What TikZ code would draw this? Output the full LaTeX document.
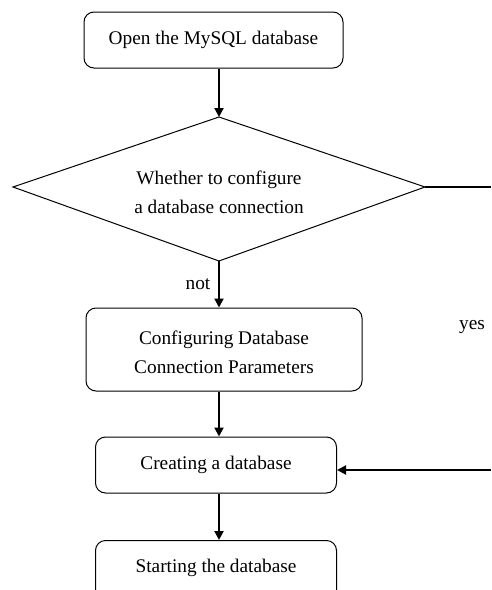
\documentclass[tikz,border=0pt]{standalone}
\usepackage{fontspec}
\setmainfont{Liberation Serif}
\usetikzlibrary{shapes.geometric,arrows.meta}
\begin{document}
\begin{tikzpicture}[x=1pt,y=-1pt,
  font=\fontsize{19.3}{28}\selectfont,
  stepbox/.style={draw, line width=1pt, rounded corners=10pt, align=center, inner sep=0pt},
  flow/.style={line width=2pt, -{Triangle[length=9pt,width=9pt]}},
  plain/.style={line width=2pt}]
  \useasboundingbox (0,0) rectangle (491,590);
  % process boxes
  \node[stepbox, minimum width=259pt, minimum height=56pt] (open) at (213.5,40) {Open the MySQL database};
  \node[stepbox, minimum width=276pt, minimum height=83pt] (config) at (224,349.5) {};
  \node[align=center] (configtxt) at (config.center) [yshift=-2.5pt] {Configuring Database\\[1pt]Connection Parameters};
  \node[stepbox, minimum width=241pt, minimum height=56pt] (create) at (216,465) {Creating a database};
  \node[stepbox, minimum width=241pt, minimum height=70pt, anchor=north] (start) at (216,540) {};
  \node (starttxt) at (216,568) {Starting the database};
  % decision diamond
  \coordinate (dtop) at (219,117);
  \coordinate (dright) at (425,187);
  \coordinate (dbottom) at (219,261);
  \coordinate (dleft) at (13,187);
  \draw[line width=1pt] (dtop) -- (dright) -- (dbottom) -- (dleft) -- cycle;
  \node[align=center] (decide) at (219,192) {Whether to configure\\[1pt]a database connection};
  % side route
  \coordinate (eastout) at (491,187);
  \coordinate (eastin) at (491,470);
  % connectors
  \draw[flow] (open.south -| dtop) -- (dtop);
  \draw[flow] (dbottom) -- (config.north -| dbottom);
  \draw[flow] (config.south -| dbottom) -- (create.north -| dbottom);
  \draw[flow] (create.south -| dbottom) -- (start.north -| dbottom);
  \draw[plain] (dright) -- (eastout);
  \draw[flow] (eastin) -- (eastin -| create.east);
  % branch labels
  \node (not) at (198,284) {not};
  \node (yes) at (472,327) {yes};
\end{tikzpicture}
\end{document}
